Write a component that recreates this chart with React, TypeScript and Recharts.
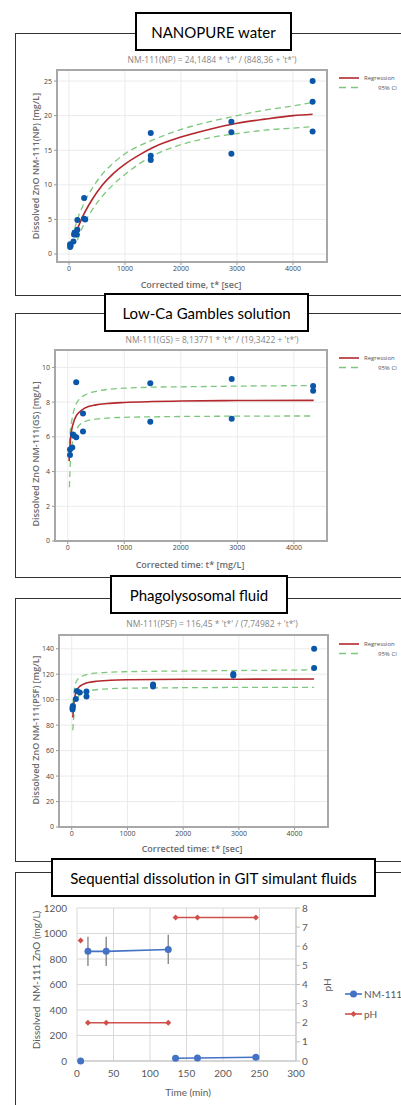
import React from "react";
import {
  ComposedChart,
  Line,
  Scatter,
  XAxis,
  YAxis,
  CartesianGrid,
  ReferenceArea,
  ErrorBar,
} from "recharts";

// ---- NANOPURE water ----
const npTime = [20, 20, 30, 80, 90, 100, 120, 140, 150, 150, 270, 270, 290, 1460, 1460, 1460, 2900, 2900, 2900, 4350, 4350, 4350];
const npConc = [1.0, 1.4, 1.2, 1.8, 2.8, 3.1, 2.8, 2.8, 3.5, 4.9, 8.1, 5.1, 5.0, 17.5, 14.2, 13.6, 19.1, 17.6, 14.5, 25.0, 22.0, 17.7];
const npCurveT = [100, 150, 250, 400, 600, 800, 1000, 1250, 1500, 2000, 2500, 3000, 3500, 4000, 4350];
const npFit = [null, 3.6, 5.5, 7.7, 10.0, 11.7, 13.0, 14.3, 15.4, 16.9, 18.0, 18.9, 19.5, 20.0, 20.2];
const npUpper = [3.6, 5.0, 7.0, 9.3, 11.6, 13.2, 14.5, 15.6, 16.5, 18.0, 19.1, 20.0, 20.8, 21.4, 21.9];
const npLower = [null, 2.0, 4.0, 6.2, 8.4, 10.1, 11.5, 13.0, 14.2, 15.8, 16.8, 17.4, 17.9, 18.2, 18.4];

// ---- Low-Ca Gambles solution ----
const gsTime = [40, 40, 80, 90, 110, 150, 150, 270, 270, 1460, 1460, 2900, 2900, 4340, 4340];
const gsConc = [4.95, 5.27, 5.39, 6.14, 6.06, 5.97, 9.14, 7.35, 6.31, 9.08, 6.87, 9.33, 7.04, 8.93, 8.66];
const gsCurveT = [25, 30, 40, 50, 70, 100, 150, 200, 300, 500, 700, 1000, 1500, 2000, 3000, 4350];
const gsFit = [4.6, 4.95, 5.5, 5.9, 6.4, 6.8, 7.2, 7.4, 7.65, 7.84, 7.92, 7.98, 8.03, 8.06, 8.09, 8.1];
const gsUpper = [null, 5.6, 6.1, 6.5, 6.9, 7.4, 7.9, 8.15, 8.4, 8.62, 8.73, 8.8, 8.86, 8.88, 8.92, 8.95];
const gsLower = [null, 3.1, 4.0, 4.7, 5.4, 5.95, 6.4, 6.65, 6.88, 7.02, 7.08, 7.12, 7.15, 7.17, 7.19, 7.2];

// ---- Phagolysosomal fluid ----
const psfTime = [15, 15, 20, 75, 95, 145, 265, 265, 1460, 1460, 2900, 2900, 4350, 4350];
const psfConc = [93.8, 92.2, 95, 100.6, 106.9, 105.6, 106.4, 102.4, 112, 110.4, 120.1, 119, 140, 124.8];
const psfCurveT = [15, 20, 30, 40, 60, 80, 100, 150, 250, 400, 700, 1000, 2000, 3000, 4350];
const psfFit = [null, 86, 92.5, 97.5, 103, 106.2, 108.1, 110.7, 112.9, 114.2, 115.2, 115.6, 116.0, 116.1, 116.2];
const psfUpper = [null, 97, 101, 106, 111.5, 114, 115.5, 117.5, 119.5, 120.8, 121.6, 122, 122.5, 122.9, 123.4];
const psfLower = [null, 76, 83, 88, 94.5, 98.5, 101, 104, 106.3, 107.6, 108.6, 109, 109.4, 109.6, 109.6];

// ---- Sequential dissolution in GIT simulant fluids ----
const gitTime = [5, 15, 40, 125, 135, 165, 245];
const gitStage = [0, 1, 1, 1, 2, 2, 2];
const gitZn = [0, 860, 860, 875, 22, 24, 29];
const gitZnErr = [0, 115, 115, 115, 0, 0, 0];
const gitPh = [6.3, 2, 2, 2, 7.5, 7.5, 7.5];

const fitXTicks = [0, 1000, 2000, 3000, 4000];
const npYTicks = [0, 5, 10, 15, 20, 25];
const gsYTicks = [0, 2, 4, 6, 8, 10];
const psfYTicks = [0, 20, 40, 60, 80, 100, 120, 140];
const gitXTicks = [0, 50, 100, 150, 200, 250, 300];
const gitZnTicks = [0, 200, 400, 600, 800, 1000, 1200];
const gitPhTicks = [0, 1, 2, 3, 4, 5, 6, 7, 8];

const MINI = "'Open Sans', 'Noto Sans', sans-serif";
const CAL = "Lato, 'Open Sans', sans-serif";

const pairs = (xs: number[], ys: (number | null)[]) => xs.map((x, i) => ({ x, y: ys[i] }));

// rows for the GIT chart, with a null row between stages so the lines break
const gitRows: any[] = [];
gitTime.forEach((t, i) => {
  if (i > 0 && gitStage[i] !== gitStage[i - 1]) {
    gitRows.push({ t: (t + gitTime[i - 1]) / 2, zn: null, ph: null, err: 0 });
  }
  gitRows.push({ t, zn: gitZn[i], ph: gitPh[i], err: gitZnErr[i] });
});

function Txt({ x, y, size, color = "#666", font = MINI, weight = 400, rotate = 0, children }: any) {
  return (
    <div
      style={{
        position: "absolute",
        left: x,
        top: y,
        transform: `translate(-50%, -50%) rotate(${rotate}deg)`,
        fontFamily: font,
        fontSize: size,
        fontWeight: weight,
        color,
        whiteSpace: "nowrap",
        lineHeight: 1,
      }}
    >
      {children}
    </div>
  );
}

function TitleBox({ left, top, width, children }: any) {
  return (
    <div
      style={{
        position: "absolute",
        left,
        top,
        width,
        height: 39,
        boxSizing: "border-box",
        border: "2px solid #000",
        background: "#fff",
        display: "flex",
        alignItems: "center",
        justifyContent: "center",
        fontFamily: CAL,
        fontSize: 15,
        color: "#000",
        whiteSpace: "nowrap",
        zIndex: 5,
      }}
    >
      {children}
    </div>
  );
}

function Frame({ top, height }: any) {
  return (
    <div
      style={{
        position: "absolute",
        left: 15,
        top,
        width: 420,
        height,
        border: "1.3px solid #333",
        boxSizing: "border-box",
      }}
    />
  );
}

function FitLegend({ top }: { top: number }) {
  return (
    <div style={{ position: "absolute", left: 338, top, width: 70, height: 20 }}>
      <svg width={70} height={20} style={{ position: "absolute", left: 0, top: 0 }}>
        <line x1={1} y1={3} x2={21} y2={3} stroke="#b3282d" strokeWidth={1.6} />
        <line x1={1} y1={12.5} x2={21} y2={12.5} stroke="#7dc87d" strokeWidth={1.4} strokeDasharray="7 5" />
      </svg>
      <div style={{ position: "absolute", left: 26, top: -1, fontFamily: MINI, fontSize: 6, color: "#555" }}>Regression</div>
      <div style={{ position: "absolute", left: 40, top: 8.5, fontFamily: MINI, fontSize: 6, color: "#555" }}>95% CI</div>
    </div>
  );
}

const blueDot = (p: any) =>
  p.cy == null ? <g key={p.key} /> : <circle key={p.key} cx={p.cx} cy={p.cy} r={3} fill="#0a56a8" />;

function FitChart({ top, height, plot, xDomain, yDomain, yTicks, ptT, ptV, curveT, fit, upper, lower }: any) {
  const xAxisH = 14;
  return (
    <div style={{ position: "absolute", left: 0, top }}>
      <ComposedChart
        width={401}
        height={height}
        margin={{ top: plot.top, right: 401 - plot.right, bottom: height - plot.bottom - xAxisH, left: 0 }}
      >
        <CartesianGrid stroke="#ebebeb" strokeWidth={1} />
        <XAxis
          dataKey="x"
          type="number"
          domain={xDomain}
          allowDataOverflow
          ticks={fitXTicks}
          height={xAxisH}
          axisLine={false}
          tickLine={{ stroke: "#999" }}
          tickSize={3}
          tickMargin={1}
          tick={{ fontSize: 7, fill: "#444", fontFamily: MINI }}
        />
        <YAxis
          type="number"
          domain={yDomain}
          allowDataOverflow
          ticks={yTicks}
          width={plot.left}
          axisLine={false}
          tickLine={{ stroke: "#999" }}
          tickSize={3}
          tickMargin={2}
          tick={{ fontSize: 7, fill: "#444", fontFamily: MINI }}
        />
        <ReferenceArea
          x1={xDomain[0]}
          x2={xDomain[1]}
          y1={yDomain[0]}
          y2={yDomain[1]}
          fill="none"
          stroke="#a8a8a8"
          strokeWidth={2}
        />
        <Line data={pairs(curveT, upper)} dataKey="y" type="monotone" stroke="#7dc87d" strokeWidth={1.3} strokeDasharray="6 4" dot={false} isAnimationActive={false} />
        <Line data={pairs(curveT, lower)} dataKey="y" type="monotone" stroke="#7dc87d" strokeWidth={1.3} strokeDasharray="6 4" dot={false} isAnimationActive={false} />
        <Line data={pairs(curveT, fit)} dataKey="y" type="monotone" stroke="#b3282d" strokeWidth={1.6} dot={false} isAnimationActive={false} />
        <Scatter data={pairs(ptT, ptV)} dataKey="y" shape={blueDot} isAnimationActive={false} />
      </ComposedChart>
    </div>
  );
}

const gitBlueDot = (p: any) =>
  p.cy == null || p.value == null ? <g key={p.key} /> : <circle key={p.key} cx={p.cx} cy={p.cy} r={3.5} fill="#4472c4" />;
const gitRedDot = (p: any) =>
  p.cy == null || p.value == null ? (
    <g key={p.key} />
  ) : (
    <polygon key={p.key} points={`${p.cx},${p.cy - 3} ${p.cx + 3},${p.cy} ${p.cx},${p.cy + 3} ${p.cx - 3},${p.cy}`} fill="#d0504d" />
  );

function GitChart() {
  return (
    <div style={{ position: "absolute", left: 0, top: 880 }}>
      <ComposedChart width={401} height={200} data={gitRows} margin={{ top: 28, right: 0, bottom: 0, left: 0 }}>
        <CartesianGrid stroke="#d9d9d9" yAxisId="zn" />
        <XAxis
          dataKey="t"
          type="number"
          domain={[0, 300]}
          ticks={gitXTicks}
          height={19}
          axisLine={{ stroke: "#bfbfbf" }}
          tickLine={false}
          tickMargin={3}
          tick={{ fontSize: 10, fill: "#595959", fontFamily: CAL }}
        />
        <YAxis
          yAxisId="zn"
          domain={[0, 1200]}
          ticks={gitZnTicks}
          width={77}
          axisLine={false}
          tickLine={false}
          tickMargin={4}
          tick={{ fontSize: 10, fill: "#595959", fontFamily: CAL }}
        />
        <YAxis
          yAxisId="ph"
          orientation="right"
          domain={[0, 8]}
          ticks={gitPhTicks}
          width={105}
          axisLine={{ stroke: "#bfbfbf" }}
          tickLine={{ stroke: "#bfbfbf" }}
          tickSize={4}
          tickMargin={2}
          tick={{ fontSize: 10, fill: "#595959", fontFamily: CAL }}
        />
        <Line yAxisId="zn" dataKey="zn" stroke="#4472c4" strokeWidth={1.6} dot={gitBlueDot} isAnimationActive={false}>
          <ErrorBar dataKey="err" width={0} stroke="#808080" strokeWidth={1.3} direction="y" />
        </Line>
        <Line yAxisId="ph" dataKey="ph" stroke="#d0504d" strokeWidth={1.6} dot={gitRedDot} isAnimationActive={false} />
      </ComposedChart>
    </div>
  );
}

export default function App() {
  return (
    <div style={{ position: "absolute", left: 0, top: 0, width: 401, height: 1105, overflow: "hidden", background: "#fff" }}>
      {/* panel frames */}
      <Frame top={33} height={263} />
      <Frame top={313} height={265} />
      <Frame top={598} height={264} />
      <Frame top={872} height={260} />

      {/* NANOPURE */}
      <Txt x={212} y={60} size={8.5} color="#858585">NM-111(NP) = 24,1484 * 't*' / (848,36 + 't*')</Txt>
      <FitChart
        top={0}
        height={300}
        plot={{ left: 57, right: 327, top: 70, bottom: 262 }}
        xDomain={[-214, 4607]}
        yDomain={[-1.16, 26.6]}
        yTicks={npYTicks}
        ptT={npTime}
        ptV={npConc}
        curveT={npCurveT}
        fit={npFit}
        upper={npUpper}
        lower={npLower}
      />
      <Txt x={35} y={166} size={9} color="#6b6b6b" weight={600} rotate={-90}>Dissolved ZnO NM-111(NP) [mg/L]</Txt>
      <Txt x={191} y={284} size={9} color="#6b6b6b" weight={600}>Corrected time, t* [sec]</Txt>
      <FitLegend top={75} />

      {/* Low-Ca Gambles */}
      <Txt x={212} y={340} size={8.5} color="#858585">NM-111(GS) = 8,13771 * 't*' / (19,3422 + 't*')</Txt>
      <FitChart
        top={300}
        height={260}
        plot={{ left: 55, right: 327, top: 50, bottom: 241 }}
        xDomain={[-225, 4585]}
        yDomain={[0, 11]}
        yTicks={gsYTicks}
        ptT={gsTime}
        ptV={gsConc}
        curveT={gsCurveT}
        fit={gsFit}
        upper={gsUpper}
        lower={gsLower}
      />
      <Txt x={35} y={454} size={9} color="#6b6b6b" weight={600} rotate={-90}>Dissolved ZnO NM-111(GS) [mg/L]</Txt>
      <Txt x={190} y={564} size={9} color="#6b6b6b" weight={600}>Corrected time: t* [mg/L]</Txt>
      <FitLegend top={355} />

      {/* Phagolysosomal */}
      <Txt x={212} y={611} size={8.5} color="#858585">Fitted Line Plot</Txt>
      <Txt x={212} y={624} size={8.5} color="#858585">NM-111(PSF) = 116,45 * 't*' / (7,74982 + 't*')</Txt>
      <FitChart
        top={580}
        height={260}
        plot={{ left: 59, right: 328, top: 55, bottom: 247 }}
        xDomain={[-228, 4599]}
        yDomain={[0, 150.8]}
        yTicks={psfYTicks}
        ptT={psfTime}
        ptV={psfConc}
        curveT={psfCurveT}
        fit={psfFit}
        upper={psfUpper}
        lower={psfLower}
      />
      <Txt x={35} y={730} size={9} color="#6b6b6b" weight={600} rotate={-90}>Dissolved ZnO NM-111(PSF) [mg/L]</Txt>
      <Txt x={192} y={848} size={9} color="#6b6b6b" weight={600}>Corrected time: t* [sec]</Txt>
      <FitLegend top={641} />

      {/* GIT sequential */}
      <GitChart />
      <Txt x={36} y={980} size={10} color="#595959" font={CAL} rotate={-90}>Dissolved&nbsp; NM-111 ZnO (mg/L)</Txt>
      <Txt x={327} y={985} size={10} color="#595959" font={CAL} rotate={-90}>pH</Txt>
      <Txt x={188} y={1092} size={10} color="#595959" font={CAL}>Time (min)</Txt>
      <div style={{ position: "absolute", left: 344, top: 986, width: 80, height: 36 }}>
        <svg width={20} height={36} style={{ position: "absolute", left: 0, top: 0 }}>
          <line x1={1} y1={8} x2={18} y2={8} stroke="#4472c4" strokeWidth={1.6} />
          <circle cx={9.5} cy={8} r={3.5} fill="#4472c4" />
          <line x1={1} y1={28} x2={18} y2={28} stroke="#d0504d" strokeWidth={1.6} />
          <polygon points="9.5,25 12.5,28 9.5,31 6.5,28" fill="#d0504d" />
        </svg>
        <div style={{ position: "absolute", left: 20, top: 2, fontFamily: CAL, fontSize: 10, color: "#595959", whiteSpace: "nowrap" }}>NM-111</div>
        <div style={{ position: "absolute", left: 20, top: 22, fontFamily: CAL, fontSize: 10, color: "#595959" }}>pH</div>
      </div>

      {/* title boxes */}
      <TitleBox left={135} top={12} width={157}>NANOPURE water</TitleBox>
      <TitleBox left={104} top={293} width={205}>Low-Ca Gambles solution</TitleBox>
      <TitleBox left={110} top={575} width={178}>Phagolysosomal fluid</TitleBox>
      <TitleBox left={51} top={858} width={325}>Sequential dissolution in GIT simulant fluids</TitleBox>
    </div>
  );
}
